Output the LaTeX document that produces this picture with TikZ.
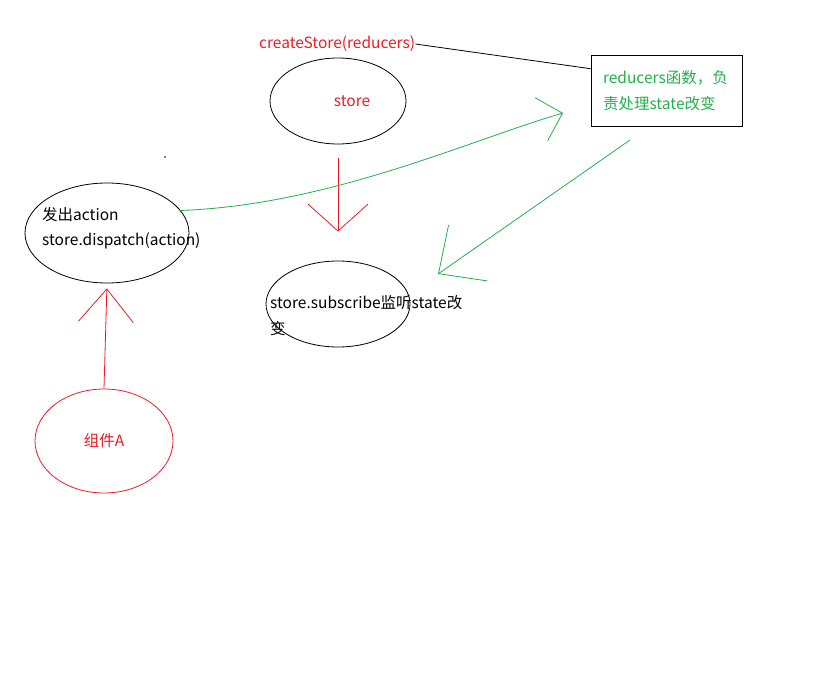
\documentclass[tikz,border=0pt]{standalone}
\usepackage{fontspec}
\setmainfont{Noto Sans CJK SC}
\usetikzlibrary{arrows.meta,shapes.geometric}
\definecolor{paintred}{RGB}{237,28,36}
\definecolor{paintgreen}{RGB}{34,177,76}

\begin{document}
\begin{tikzpicture}[
x=1pt,y=-1pt,
font=\fontsize{15.5}{25.5}\selectfont,
oval/.style={draw,ellipse,inner sep=0pt,line width=0.8pt},
txt/.style={inner sep=0pt,align=left,anchor=west},
rbox/.style={draw,line width=0.9pt,minimum width=151pt,minimum height=71pt,inner sep=0pt,text width=127pt,align=left,text=paintgreen},
redarr/.style={paintred,line width=0.8pt},
greenarr/.style={paintgreen,line width=0.8pt}
]
\useasboundingbox (0,0) rectangle (819,698);
\node[oval,minimum width=136pt,minimum height=86pt,text=paintred] (store) at (338,101) {\hspace{28pt}store};
\node[txt,text=paintred] (create) at (259,44) {createStore(reducers)};
\node[rbox] (box) at (666.5,90.5) {reducers函数，负\\责处理state改变};
\node[oval,minimum width=164pt,minimum height=100pt] (disp) at (107,233) {};
\node[txt] (disptxt) at (42,228) {发出action\\store.dispatch(action)};
\node[oval,minimum width=144pt,minimum height=86pt] (sub) at (338,304) {};
\node[txt] (subtxt) at (270,315.5) {store.subscribe监听state改\\变};
\node[oval,draw=paintred,minimum width=138pt,minimum height=104pt,text=paintred] (comp) at (104,441) {组件A};
\coordinate (boxout) at (630,140);
\coordinate (subin) at (438,274);
\coordinate (boxin) at (563,113);
\fill (165,157) circle (0.8);
\draw[line width=0.8pt] (create.east) -- (box.164);
\draw[redarr,-{Straight Barb[length=27pt,width=60pt]},shorten <=14pt,shorten >=29pt] (store.south) -- (sub.north);
\draw[redarr,-{Straight Barb[length=33pt,width=55pt]},shorten >=5pt] (comp.north) -- (disp.south);
\draw[greenarr,-{Straight Barb[length=22pt,width=45pt]}] (disp.17) .. controls (330,205) and (470,140) .. (boxin);
\draw[greenarr,-{Straight Barb[length=36pt,width=68pt]}] (boxout) -- (subin);
\end{tikzpicture}
\end{document}
